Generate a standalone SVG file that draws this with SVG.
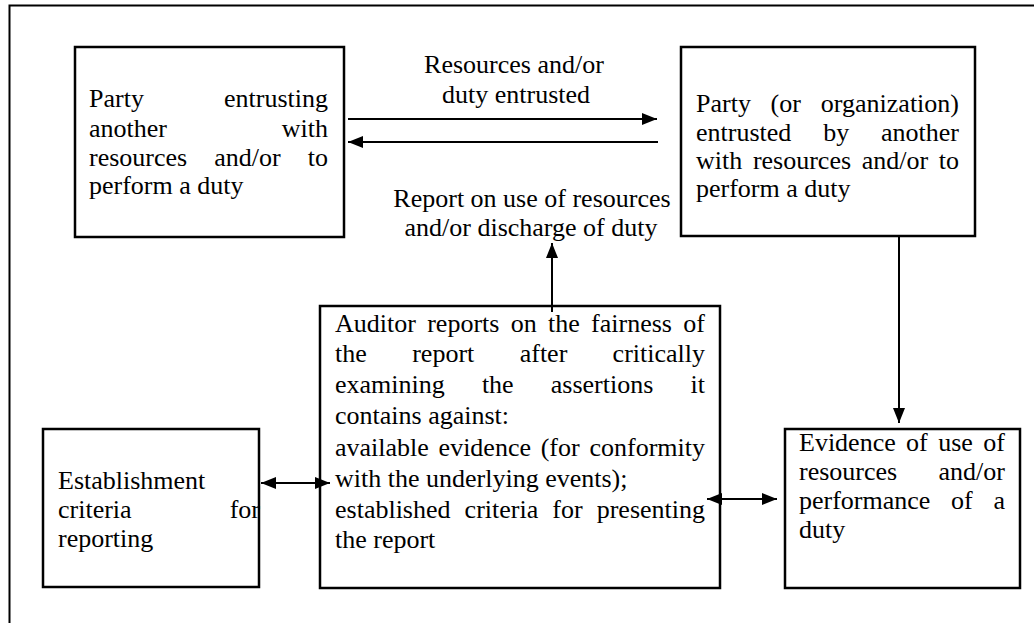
<svg xmlns="http://www.w3.org/2000/svg" width="1034" height="623" viewBox="0 0 1034 623">
<style>
.box{fill:#fff;stroke:#000;stroke-width:2.5}
.t{font-family:'Liberation Serif','Times New Roman',serif;font-size:26px;fill:#000}
.c{stroke:#000;stroke-width:2;fill:none}
.e{text-anchor:end}
.m{text-anchor:middle}
</style>
<defs>
<marker id="ah" markerUnits="userSpaceOnUse" markerWidth="15" markerHeight="12" refX="15" refY="6" orient="auto-start-reverse">
<path d="M0,0 L15,6 L0,12 z" fill="#000"/>
</marker>
</defs>
<rect width="1034" height="623" fill="#fff"/>
<g id="frame">
<path d="M9.5,623 V5.5 H1034" stroke="#000" stroke-width="2" fill="none"/>
</g>
<g id="party-entrusting">
<rect class="box" x="75" y="47" width="269" height="190"/>
<text class="t"><tspan x="89" y="107">Party</tspan><tspan class="e" x="328" y="107">entrusting</tspan><tspan x="89" y="137">another</tspan><tspan class="e" x="328" y="137">with</tspan><tspan x="89" y="166">resources</tspan><tspan x="214.3" y="166">and/or</tspan><tspan class="e" x="328" y="166">to</tspan><tspan x="89" y="194">perform a duty</tspan></text>
</g>
<g id="party-entrusted">
<rect class="box" x="681" y="47" width="294" height="189"/>
<text class="t"><tspan x="696" y="112">Party</tspan><tspan x="770.5" y="112">(or</tspan><tspan class="e" x="959" y="112">organization)</tspan><tspan x="696" y="141">entrusted</tspan><tspan x="823.2" y="141">by</tspan><tspan class="e" x="959" y="141">another</tspan><tspan x="696" y="169">with</tspan><tspan x="752.9" y="169">resources</tspan><tspan x="861.8" y="169">and/or</tspan><tspan class="e" x="959" y="169">to</tspan><tspan x="696" y="197">perform a duty</tspan></text>
</g>
<g id="auditor">
<rect class="box" x="320" y="306" width="400" height="282"/>
<text class="t"><tspan x="335" y="332">Auditor</tspan><tspan x="427.2" y="332">reports</tspan><tspan x="510.7" y="332">on</tspan><tspan x="548" y="332">the</tspan><tspan x="591.1" y="332">fairness</tspan><tspan class="e" x="705" y="332">of</tspan><tspan x="335" y="362">the</tspan><tspan x="412.2" y="362">report</tspan><tspan x="519.7" y="362">after</tspan><tspan class="e" x="705" y="362">critically</tspan><tspan x="335" y="393">examining</tspan><tspan x="481.9" y="393">the</tspan><tspan x="550.8" y="393">assertions</tspan><tspan class="e" x="705" y="393">it</tspan><tspan x="335" y="424">contains against:</tspan><tspan x="335" y="456">available</tspan><tspan x="438.6" y="456">evidence</tspan><tspan x="540.7" y="456">(for</tspan><tspan class="e" x="705" y="456">conformity</tspan><tspan x="335" y="487">with the underlying events);</tspan><tspan x="335" y="518">established</tspan><tspan x="464.6" y="518">criteria</tspan><tspan x="552.3" y="518">for</tspan><tspan class="e" x="705" y="518">presenting</tspan><tspan x="335" y="548">the report</tspan></text>
</g>
<g id="criteria">
<rect class="box" x="43" y="429" width="216" height="158"/>
<text class="t"><tspan x="58" y="489">Establishment</tspan><tspan x="58" y="518">criteria</tspan><tspan class="e" x="260" y="518">for</tspan><tspan x="58" y="547">reporting</tspan></text>
</g>
<g id="evidence">
<rect class="box" x="785" y="429" width="235" height="159"/>
<text class="t"><tspan x="799" y="451">Evidence</tspan><tspan x="906.1" y="451">of</tspan><tspan x="938.2" y="451">use</tspan><tspan class="e" x="1005" y="451">of</tspan><tspan x="799" y="480">resources</tspan><tspan class="e" x="1005" y="480">and/or</tspan><tspan x="799" y="509">performance</tspan><tspan x="951.1" y="509">of</tspan><tspan class="e" x="1005" y="509">a</tspan><tspan x="799" y="538">duty</tspan></text>
</g>
<g id="labels">
<text class="t m" x="514" y="73">Resources and/or</text>
<text class="t m" x="516" y="103">duty entrusted</text>
<text class="t m" x="532" y="207">Report on use of resources</text>
<text class="t m" x="531" y="236">and/or discharge of duty</text>
</g>
<g id="connectors">
<line class="c" x1="348" y1="119" x2="657" y2="119" marker-end="url(#ah)"/>
<line class="c" x1="658" y1="142" x2="348" y2="142" marker-end="url(#ah)"/>
<line class="c" x1="552" y1="312" x2="552" y2="243" marker-end="url(#ah)"/>
<line class="c" x1="899" y1="236" x2="899" y2="423" marker-end="url(#ah)"/>
<line class="c" x1="261" y1="483" x2="330" y2="483" marker-start="url(#ah)" marker-end="url(#ah)"/>
<line class="c" x1="707" y1="499" x2="777" y2="499" marker-start="url(#ah)" marker-end="url(#ah)"/>
</g>
</svg>
